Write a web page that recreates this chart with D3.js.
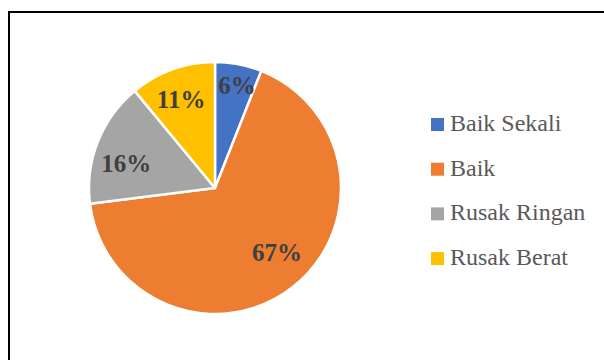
<!DOCTYPE html>
<html>
<head>
<meta charset="utf-8">
<script src="https://cdn.jsdelivr.net/npm/d3@7/dist/d3.min.js"></script>
<style>
  html, body { margin: 0; padding: 0; background: #fff; }
  svg { display: block; }
</style>
</head>
<body>
<svg id="chart" width="604" height="360"></svg>
<script>
const categories = ["Baik Sekali", "Baik", "Rusak Ringan", "Rusak Berat"];
const percentages = [6, 67, 16, 11];
const colors = ["#4472C4", "#ED7D31", "#A5A5A5", "#FFC000"];

const svg = d3.select("#chart");
const W = 604, H = 360;
const serif = "'Liberation Serif', 'Times New Roman', Times, serif";

// chart frame
svg.append("rect")
  .attr("x", 9).attr("y", 12)
  .attr("width", W + 20).attr("height", H + 20)
  .attr("fill", "#fff")
  .attr("stroke", "#000")
  .attr("stroke-width", 2);

const cx = 215, cy = 188, radius = 126;

const data = categories.map((c, i) => ({ name: c, value: percentages[i], color: colors[i] }));

const pie = d3.pie().value(d => d.value).sort(null);
const arcs = pie(data);
const arc = d3.arc().innerRadius(0).outerRadius(radius);

const g = svg.append("g").attr("transform", `translate(${cx},${cy})`);

g.selectAll("path.slice")
  .data(arcs)
  .join("path")
  .attr("class", "slice")
  .attr("d", arc)
  .attr("fill", d => d.data.color)
  .attr("stroke", "#fff")
  .attr("stroke-width", 2.5)
  .attr("stroke-linejoin", "round");

// data labels: distance from centre and a small angular nudge (degrees) off the bisector
const labelRadius = [105, 90, 92, 95];
const labelNudge = [1.3, -5.8, -6.4, -1.1];
g.selectAll("text.lbl")
  .data(arcs)
  .join("text")
  .attr("class", "lbl")
  .attr("transform", (d, i) => {
    const a = (d.startAngle + d.endAngle) / 2 + labelNudge[i] * Math.PI / 180;
    const r = labelRadius[i];
    return `translate(${Math.sin(a) * r},${-Math.cos(a) * r})`;
  })
  .attr("text-anchor", "middle")
  .attr("dy", "0.33em")
  .attr("font-family", serif)
  .attr("font-weight", "bold")
  .attr("font-size", 25)
  .attr("fill", "#404040")
  .text(d => d.data.value + "%");

// legend
const legend = svg.append("g").attr("transform", "translate(431,131)");
const rowH = 44.7;
const items = legend.selectAll("g.item")
  .data(data)
  .join("g")
  .attr("class", "item")
  .attr("transform", (d, i) => `translate(0,${i * rowH})`);

items.append("rect")
  .attr("x", 0).attr("y", -13)
  .attr("width", 13).attr("height", 13)
  .attr("fill", d => d.color);

items.append("text")
  .attr("x", 19)
  .attr("y", 0)
  .attr("font-family", serif)
  .attr("font-size", 24)
  .attr("fill", "#595959")
  .text(d => d.name);
</script>
</body>
</html>
